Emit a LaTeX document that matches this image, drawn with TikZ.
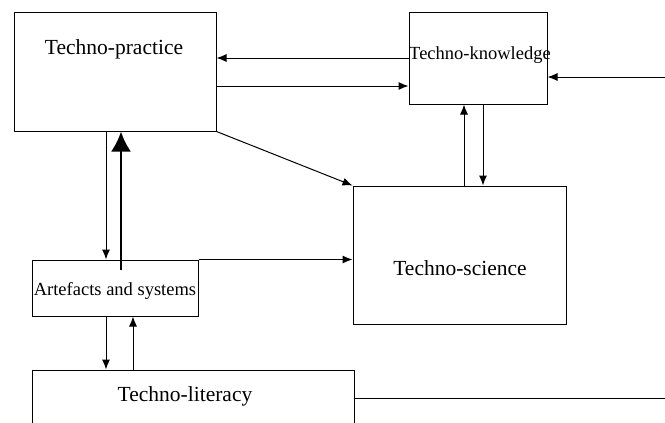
\documentclass[tikz,border=0pt]{standalone}
\usepackage{fontspec}
\setmainfont{Liberation Serif}
\usetikzlibrary{arrows.meta}
\tikzset{
	box/.style={draw, rectangle, line width=1pt, inner sep=0pt},
	bigtext/.style={font=\fontsize{21.5}{25}\selectfont, inner sep=0pt},
	smalltext/.style={font=\fontsize{18.5}{22}\selectfont, inner sep=0pt},
	link/.style={line width=1pt, -{Latex[length=10pt,width=8pt]}},
	thicklink/.style={line width=2.6pt, -{Latex[length=20pt,width=20pt]}},
}
\begin{document}
\begin{tikzpicture}[x=1pt,y=-1pt]
	\clip (0,0) rectangle (665,423);
	% Boxes
	\node[box, minimum width=202pt, minimum height=119pt] (tp) at (115,71.5) {};
	\node[box, minimum width=138pt, minimum height=92pt] (tk) at (478,58) {};
	\node[box, minimum width=213pt, minimum height=138pt] (ts) at (459.5,255) {};
	\node[box, minimum width=166pt, minimum height=56pt] (as) at (115,288) {};
	\node[box, minimum width=322pt, minimum height=56pt] (tl) at (193,398) {};
	
	% Labels
	\node[bigtext] (tplabel) at (114,49) {Techno-practice};
	\node[smalltext] (tklabel) at (480,55) {Techno-knowledge};
	\node[bigtext] (tslabel) at (460,268) {Techno-science};
	\node[smalltext] (aslabel) at (115,291) {Artefacts and systems};
	\node[bigtext] (tllabel) at (185,396) {Techno-literacy};
	
	% Free ends at the right border
	\coordinate (inright) at (665,77);
	\coordinate (outright) at (665,398);
	
	% Techno-practice <-> Techno-knowledge
	\draw[link] (tk.west) -- (tk.west -| tp.east);
	\draw[link] ([yshift=-14.5pt]tp.east) -- ([yshift=-14.5pt]tp.east -| tk.west);
	\draw[link] (tp.south east) -- (ts.north west);
	\draw[link] (inright) -- (inright -| tk.east);
	
	% Techno-knowledge <-> Techno-science
	\draw[link] ([xshift=-14pt]tk.south |- ts.north) -- ([xshift=-14pt]tk.south);
	\draw[link] ([xshift=5pt]tk.south) -- ([xshift=5pt]tk.south |- ts.north);
	
	% Techno-practice <-> Artefacts and systems
	\draw[link] ([xshift=-9pt]tp.south) -- ([xshift=-9pt]tp.south |- as.north);
	\draw[thicklink] ([xshift=6pt,yshift=-10pt]as.north) -- ([xshift=6pt]as.north |- tp.south);
	\draw[link] (as.north east) -- (as.north east -| ts.west);
	
	% Artefacts and systems <-> Techno-literacy
	\draw[link] ([xshift=-9pt]as.south) -- ([xshift=-9pt]as.south |- tl.north);
	\draw[link] ([xshift=18pt]as.south |- tl.north) -- ([xshift=18pt]as.south);
	\draw[line width=1pt] (tl.east) -- (outright);
\end{tikzpicture}
\end{document}
